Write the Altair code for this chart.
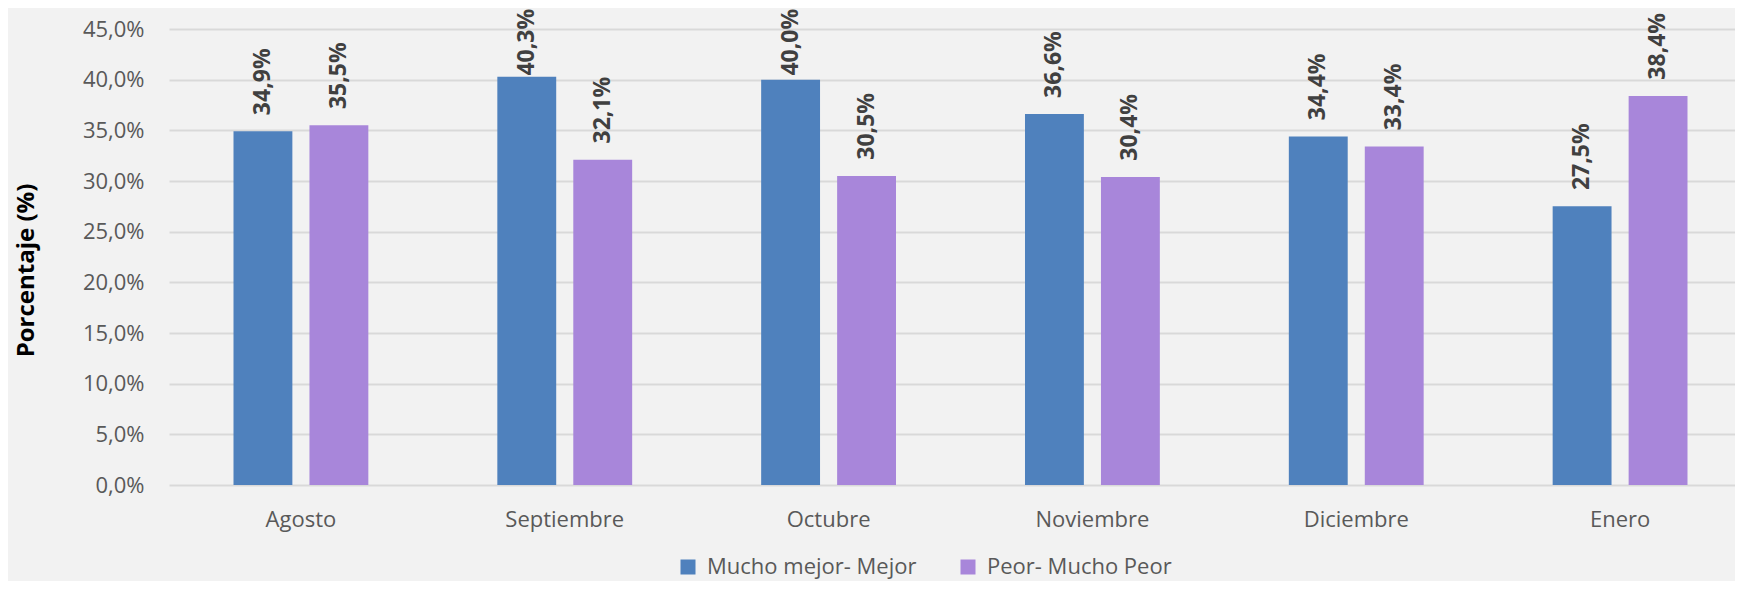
import altair as alt
import pandas as pd

months = ["Agosto", "Septiembre", "Octubre", "Noviembre", "Diciembre", "Enero"]
series_names = ["Mucho mejor- Mejor", "Peor- Mucho Peor"]
mejor = [34.9, 40.3, 40.0, 36.6, 34.4, 27.5]
peor = [35.5, 32.1, 30.5, 30.4, 33.4, 38.4]
y_ticks = [0, 5, 10, 15, 20, 25, 30, 35, 40, 45]
colors = ["#4F81BD", "#A886DA"]

rows = []
for i, m in enumerate(months):
    rows.append({"mes": m, "serie": series_names[0], "valor": mejor[i]})
    rows.append({"mes": m, "serie": series_names[1], "valor": peor[i]})
df = pd.DataFrame(rows)

FONT = "Open Sans"
PLOT_W = 1565
PLOT_H = 456

x_enc = alt.X(
    "mes:N",
    sort=months,
    title=None,
    scale=alt.Scale(range=[-1, 1582], paddingInner=0, paddingOuter=0),
    axis=alt.Axis(
        labelAngle=0,
        labelFontSize=22,
        labelFont=FONT,
        labelColor="#595959",
        labelPadding=24,
        ticks=False,
        domain=False,
        grid=False,
    ),
)
xoff_enc = alt.XOffset(
    "serie:N",
    sort=series_names,
    scale=alt.Scale(paddingInner=0.225, paddingOuter=0.849),
)
y_scale = alt.Scale(domain=[0, 45], nice=False)
y_axis = alt.Axis(
    values=y_ticks,
    labelExpr="replace(format(datum.value, '.1f'), '.', ',') + '%'",
    labelFontSize=22,
    labelFont=FONT,
    labelColor="#595959",
    labelPadding=26,
    ticks=False,
    domain=False,
    gridColor="#D9D9D9",
    gridWidth=2,
    titleFont=FONT,
    titleFontSize=24,
    titleFontWeight="bold",
    titleColor="#000000",
    titleAngle=270,
    titleX=-144,
    titleY=241,
    titleAlign="center",
    titleBaseline="middle",
)
y_title = "Porcentaje (%)"

color_enc = alt.Color(
    "serie:N",
    sort=series_names,
    scale=alt.Scale(domain=series_names, range=colors),
    legend=alt.Legend(
        title=None,
        orient="none",
        direction="horizontal",
        legendX=507,
        legendY=527,
        symbolType="square",
        symbolSize=225,
        symbolStrokeWidth=0,
        labelFont=FONT,
        labelFontSize=22,
        labelColor="#595959",
        labelOffset=8,
        labelLimit=0,
        columnPadding=40,
        padding=0,
    ),
)

bars = alt.Chart(df).mark_bar().encode(
    x=x_enc,
    xOffset=xoff_enc,
    y=alt.Y("valor:Q", title=y_title, scale=y_scale, axis=y_axis),
    color=color_enc,
)

labels = (
    alt.Chart(df)
    .transform_calculate(
        etiqueta="replace(format(datum.valor, '.1f'), '.', ',') + '%'",
        pos="min(datum.valor + 1.6, 40.4)",
    )
    .mark_text(
        angle=270,
        align="left",
        baseline="middle",
        font=FONT,
        fontSize=23,
        fontWeight="bold",
        color="#404040",
    )
    .encode(
        x=x_enc,
        xOffset=xoff_enc,
        y=alt.Y("pos:Q", title=y_title, scale=y_scale, axis=y_axis),
        text="etiqueta:N",
    )
)

chart = (
    alt.layer(bars, labels)
    .properties(
        width=PLOT_W,
        height=PLOT_H,
        background="#F2F2F2",
        autosize=alt.AutoSizeParams(type="none"),
        padding={"left": 162, "top": 21, "right": 0, "bottom": 96},
    )
    .configure_view(stroke=None)
)

chart.save("out.html", embed_options={"renderer": "svg", "actions": False})
